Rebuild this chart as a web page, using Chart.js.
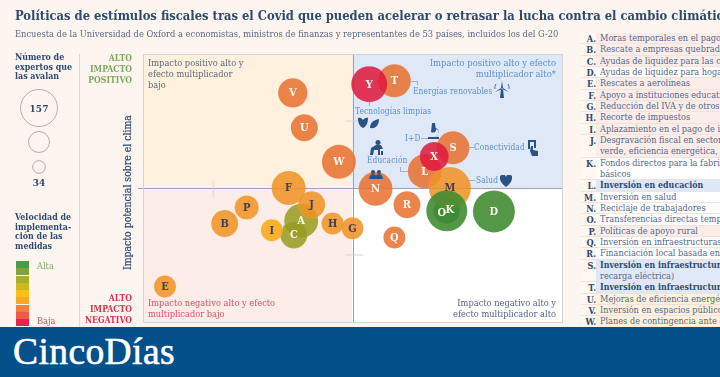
<!DOCTYPE html>
<html><head><meta charset="utf-8">
<script src="https://cdn.jsdelivr.net/npm/chart.js@4"></script>
<style>
html,body{margin:0;padding:0;width:720px;height:377px;overflow:hidden;background:#fdf6f0}
#stage{position:relative;width:720px;height:377px;overflow:hidden;font-family:"DejaVu Serif Condensed","DejaVu Serif",serif;color:#44587a}
canvas{position:absolute;left:0;top:0}
.t{position:absolute;white-space:nowrap;line-height:11px;font-size:9.2px}
.r{text-align:right}
.b{font-weight:bold}
.s{font-size:8.3px;color:#5b8fd0;letter-spacing:.1px}
.lead{position:absolute;background:#9fb0c8}
#title{left:15px;top:7px;font-size:12.85px;font-weight:bold;color:#2d4a73;line-height:18px}
#sub{left:15px;top:28px;font-size:9.25px;color:#5a6a85;line-height:12px}
.vl{position:absolute;background:#dcd9d8;width:1px}
#banner{position:absolute;left:0;top:327px;width:720px;height:50px;background:#03508a;color:#fff}
#logo{position:absolute;left:13px;top:4px;font:400 37.500px/42px "Liberation Serif",serif;letter-spacing:.4px;-webkit-text-stroke:.6px #fff}
#tbl{position:absolute;left:581px;top:33px;width:139px;font-size:9.1px;line-height:11.33px;color:#55678a}
.row{position:relative;padding-left:19px;border-bottom:1px solid #f1e3da;white-space:nowrap;height:10.33px;background:#fdf3eb}
.row.two{height:21.67px}
.row i{position:absolute;left:0;top:0;bottom:0;width:14px;padding-left:1px;text-align:right;font-style:normal;font-weight:bold;color:#2d4a73;background:#fff7f0}
.sw{position:absolute;left:16px;width:13px;height:7px}
svg.ic{position:absolute;fill:#2c5283}
</style></head><body>
<div id="stage">
<canvas id="c" width="720" height="377"></canvas>
<div class="t" id="title">Políticas de estímulos fiscales tras el Covid que pueden acelerar o retrasar la lucha contra el cambio climático</div>
<div class="t" id="sub">Encuesta de la Universidad de Oxford a economistas, ministros de finanzas y representantes de 53 países, incluidos los del G-20</div>
<div class="vl" style="left:79px;top:54px;height:273px"></div>

<div class="t b" style="left:15px;top:53px;line-height:9.6px;font-size:8.8px;color:#2d4a73">Número de<br>expertos que<br>las avalan</div>
<div class="t b" style="left:29px;top:103px;font-size:10px;color:#2d4a73;width:20px;text-align:center">157</div>
<div class="t b" style="left:29px;top:177px;font-size:10px;color:#2d4a73;width:20px;text-align:center">34</div>
<div class="t b" style="left:15px;top:213px;line-height:9.7px;font-size:8.8px;color:#2d4a73">Velocidad de<br>implementa-<br>ción de las<br>medidas</div>
<div id="scale"></div>
<div class="t" style="left:37px;top:260px;color:#86a86a">Alta</div>
<div class="t" style="left:37px;top:315px;color:#d8506a">Baja</div>

<div class="t r b" style="right:588px;top:53px;font-size:8.6px;color:#7fa85c;line-height:11px">ALTO<br>IMPACTO<br>POSITIVO</div>
<div class="t r b" style="right:588px;top:293px;font-size:8.6px;color:#d8304f;line-height:11px">ALTO<br>IMPACTO<br>NEGATIVO</div>
<div class="t" style="left:121px;top:270px;transform-origin:0 0;transform:rotate(-90deg);font-size:10.4px;line-height:12px;color:#2d4a73;-webkit-text-stroke:.2px #2d4a73">Impacto potencial sobre el clima</div>

<div class="t" style="left:148px;top:57px;color:#5a6a7a">Impacto positivo alto y<br>efecto multiplicador<br>bajo</div>
<div class="t r" style="right:164px;top:57px;font-size:9.4px;color:#5b8fd0">Impacto positivo alto y efecto<br>multiplicador alto*</div>
<div class="t" style="left:148px;top:297px;color:#d8506a">Impacto negativo alto y efecto<br>multiplicador bajo</div>
<div class="t r" style="right:164px;top:297px;color:#55678a">Impacto negativo alto y<br>efecto multiplicador alto</div>

<div class="t s" style="left:413px;top:86px">Energías renovables</div>
<div class="t s" style="left:355px;top:106px">Tecnologías limpias</div>
<div class="t s" style="left:405px;top:133px">I+D</div>
<div class="t s" style="left:474px;top:142px">Conectividad</div>
<div class="t s" style="left:367px;top:155px">Educación</div>
<div class="t s" style="left:476px;top:175px">Salud</div>

<div class="lead" style="left:410px;top:81px;width:8px;height:1px"></div><div class="lead" style="left:417px;top:81px;width:1px;height:4px"></div>
<div class="lead" style="left:369px;top:102px;width:1px;height:4px"></div>
<div class="lead" style="left:421px;top:138px;width:12px;height:1px"></div>
<div class="lead" style="left:468px;top:147px;width:6px;height:1px"></div>
<div class="lead" style="left:400px;top:171px;width:8px;height:1px"></div><div class="lead" style="left:400px;top:167px;width:1px;height:4px"></div>
<div class="lead" style="left:468px;top:180px;width:7px;height:1px"></div>

<svg class="ic" style="left:494px;top:81px" width="16" height="17" viewBox="0 0 16 17"><path d="M7 8h2l1 9H6zM8 0l1 7H7zM1 11l6-4 1 1zM15 11 9 7 8 8z"/><path d="M2 3a6 6 0 0 0-1 5M14 3a6 6 0 0 1 1 5" fill="none" stroke="#2c5283" stroke-width=".8"/></svg>
<svg class="ic" style="left:358px;top:117px" width="21" height="12" viewBox="0 0 21 12"><path d="M0 1c3-1 4 1 5 2 1-1 3-3 5-2 0 4-1 8-5 10C1 9 0 5 0 1zM12 11c0-5 3-8 9-9 0 6-3 10-9 9z"/></svg>
<svg class="ic" style="left:428px;top:123px" width="11" height="16" viewBox="0 0 11 16"><path d="M4 0h3l1 8a4 4 0 0 1-5 1zM0 14h11v2H0zM8 5a5 5 0 0 1 0 9H6a4 4 0 0 0 1-8z"/></svg>
<svg class="ic" style="left:370px;top:140px" width="15" height="15" viewBox="0 0 15 15"><circle cx="8" cy="2.500" r="2.500"/><path d="M0 15l1-7 5-3h5l2 4h-3v6H8V10H4l-1 5zM11 11h2v4h-2z"/></svg>
<svg class="ic" style="left:527px;top:140px" width="12" height="16" viewBox="0 0 12 16"><path d="M1 0h8v8H7V2H3v7H1zM4 6h2v4l5 1v5H5L3 11z"/></svg>
<svg class="ic" style="left:500px;top:175px" width="12" height="12" viewBox="0 0 12 12"><path d="M6 12C2 9 0 6 0 3.500A3 3 0 0 1 6 2a3 3 0 0 1 6 1.500C12 6 10 9 6 12z"/></svg>
<svg class="ic" style="left:369px;top:170px" width="14" height="9" viewBox="0 0 14 9"><circle cx="4" cy="2" r="2"/><circle cx="10" cy="2" r="2"/><path d="M0 9c0-3 2-5 4-5s3 1 3 2c0-1 1-2 3-2s4 2 4 5z"/></svg>

<div id="tbl"></div>
<div id="banner"><div id="logo">CincoDías</div></div>
</div>
<script>
// ---- data ----
const letters = ["A","B","C","D","E","F","G","H","I","J","K","L","M","N","O","P","Q","R","S","T","U","V","W","X","Y"];
const climaMultiplier = [-2.45,-6.1,-2.8,6.75,-8.95,-3.05,0,-0.95,-3.85,-1.95,4.5,3.45,4.65,1.1,4.5,-5.05,2,2.6,4.8,2,-2.3,-2.85,-0.65,3.9,0.8];
const climaImpact = [-2.45,-2.65,-3.5,-1.75,-7.35,0,-3,-2.65,-3.15,-1.25,-1.7,1.25,0,-0.05,-1.7,-1.45,-3.7,-1.25,3,8,4.5,7.1,1.95,2.35,7.75];
const bubbleSize = [17,13.5,13.5,21,11,17,11,11,11,13.5,13,17,21,17,20.5,12,11,13.5,16.5,16.5,13.5,14.7,17,14.5,18];
const speedLevel = [3,5,3,1,5,5,5,5,6,5,0,7,5,7,1,5,7,7,7,7,7,7,7,8,8];
const darkLetters = ["B","E","F","G","H","I","J","M","P"];
const speedPalette = ["rgba(0,122,55,.88)","rgba(65,140,50,.9)","rgba(125,160,50,.88)","rgba(150,155,30,.85)","rgba(205,185,30,.88)","rgba(240,145,35,.86)","rgba(248,170,25,.9)","rgba(232,112,48,.86)","rgba(222,25,60,.86)"];
const legendScale = ["#4c9a47","#7ea43b","#a7ad2f","#cdb820","#fcc112","#f9a726","#f47f38","#ef5947","#e8224f"];
const legendExperts = [18.5,10.5,6.3];
const policies = [
 ["A","Moras temporales en el pago de préstamos"],["B","Rescate a empresas quebradas o en apuros"],["C","Ayudas de liquidez para las compañías"],["D","Ayudas de liquidez para hogares"],["E","Rescates a aerolíneas"],["F","Apoyo a instituciones educativas"],["G","Reducción del IVA y de otros impuestos"],["H","Recorte de impuestos"],["I","Aplazamiento en el pago de impuestos"],["J","Desgravación fiscal en sectores de economía","verde, eficiencia energética, renovables"],["K","Fondos directos para la fabricación de bienes","básicos"],["L","Inversión en educación"],["M","Inversión en salud"],["N","Reciclaje de trabajadores"],["O","Transferencias directas temporales"],["P","Políticas de apoyo rural"],["Q","Inversión en infraestructuras"],["R","Financiación local basada en proyectos"],["S","Inversión en infraestructuras (banda ancha,","recarga eléctrica)"],["T","Inversión en infraestructuras limpias"],["U","Mejoras de eficiencia energética"],["V","Inversión en espacios públicos"],["W","Planes de contingencia ante crisis"]];
const boldRows = ["L","S","T"];
const rowTints = {blue:["L","S","T"],white:["D","K","M","N","O","Q","R"],cream:["U","V","W"]};
const tintColours = {blue:"#dfe8f6",white:"#ffffff",cream:"#fff1dd",other:"#fcede9"};
const quadrants = [["#fff1dd",-10,0,0,10],["#dfe8f6",0,10,0,10],["#fcede9",-10,0,-10,0],["#ffffff",0,10,-10,0]];

// ---- html side ----
const scaleEl=document.getElementById('scale');
legendScale.forEach((c,i)=>{const d=document.createElement('div');d.className='sw';d.style.top=(261+i*7.25)+'px';d.style.background=c;scaleEl.appendChild(d);});
const tbl=document.getElementById('tbl');
function tintOf(l){for(const k in rowTints){if(rowTints[k].includes(l))return tintColours[k];}return tintColours.other;}
policies.forEach(p=>{const isBold=boldRows.includes(p[0]);const d=document.createElement('div');
 d.className='row'+(p.length>2?' two':'');
 d.style.background=tintOf(p[0]);
 const w=isBold?'font-weight:bold;color:#2d4a73;font-size:8.8px':'';
 d.innerHTML='<i>'+p[0]+'.</i><span style="'+w+'">'+p[1]+'</span>'+(p[2]?'<br><span>'+p[2]+'</span>':'');
 tbl.appendChild(d);});

// ---- chart ----
const letterShift={O:[-5,2],K:[3,-1]};
const backdrop={id:'backdrop',beforeDatasetsDraw(ch){const {ctx,scales:{x,y}}=ch;ctx.save();
 quadrants.forEach(q=>{ctx.fillStyle=q[0];ctx.fillRect(x.getPixelForValue(q[1]),y.getPixelForValue(q[4]),x.getPixelForValue(q[2])-x.getPixelForValue(q[1]),y.getPixelForValue(q[3])-y.getPixelForValue(q[4]));});
 ctx.strokeStyle='#9aa3b8';ctx.lineWidth=1;
 const cx=Math.round(x.getPixelForValue(0))+.5,cy=Math.round(y.getPixelForValue(0))+.5;
 ctx.beginPath();ctx.moveTo(x.left-5,cy);ctx.lineTo(x.right,cy);ctx.moveTo(cx,y.top);ctx.lineTo(cx,y.bottom);ctx.stroke();
 ctx.strokeStyle='#d6d3d3';ctx.strokeRect(x.left+.5,y.top+.5,x.right-x.left,y.bottom-y.top);
 ctx.strokeStyle='#d9d6d6';ctx.beginPath();
 [-6.65].forEach(v=>{const p=x.getPixelForValue(v);ctx.moveTo(p,cy-9);ctx.lineTo(p,cy+9);});
 [5,-5].forEach(v=>{const p=y.getPixelForValue(v);ctx.moveTo(cx-8,p);ctx.lineTo(cx+10,p);});
 ctx.stroke();
 ctx.strokeStyle='#b9a9a9';
 [[39,108],[39,142],[39,167]].forEach((c,i)=>{ctx.beginPath();ctx.arc(c[0],c[1],legendExperts[i],0,Math.PI*2);ctx.stroke();});
 ctx.restore();}};
const bubbleLetters={id:'bubbleLetters',afterDatasetsDraw(ch){const {ctx}=ch;const m=ch.getDatasetMeta(0);ctx.save();
 ctx.font='bold 11px "DejaVu Serif Condensed","DejaVu Serif",serif';ctx.textAlign='center';ctx.textBaseline='middle';
 m.data.forEach((el,i)=>{const l=letters[i],s=letterShift[l]||[0,0];ctx.fillStyle=darkLetters.includes(l)?'#3f3f55':'#fff8ee';ctx.fillText(l,el.x+s[0],el.y+.5+s[1]);});ctx.restore();}};
new Chart(document.getElementById('c'),{type:'bubble',
 data:{datasets:[{data:letters.map((l,i)=>({x:climaMultiplier[i],y:climaImpact[i],r:bubbleSize[i]})),
  backgroundColor:speedLevel.map(s=>speedPalette[s]),borderColor:'rgba(255,255,255,.15)',borderWidth:.5}]},
 plugins:[backdrop,bubbleLetters],
 options:{responsive:false,animation:false,
  layout:{padding:{left:143,top:54,right:158,bottom:55}},
  plugins:{legend:{display:false},tooltip:{enabled:false}},
  scales:{x:{type:'linear',min:-10,max:10,display:false},y:{type:'linear',min:-10,max:10,display:false}}}});
</script>
</body></html>
